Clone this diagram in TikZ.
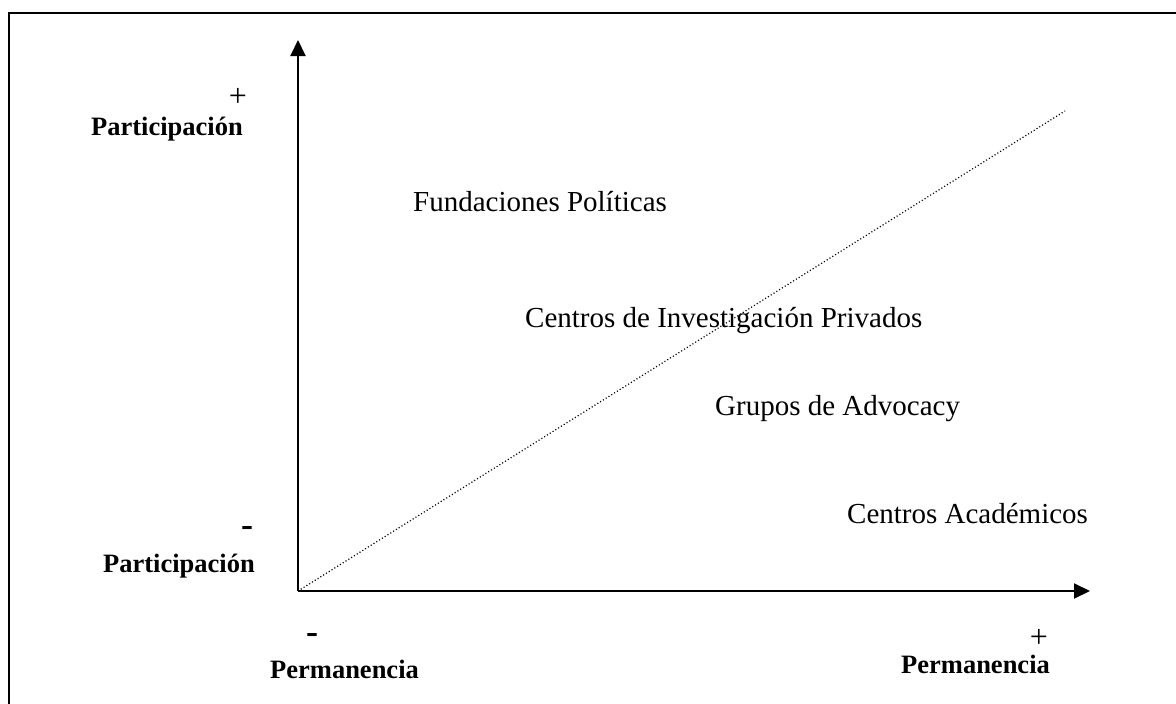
\documentclass[tikz,border=0pt]{standalone}
\usepackage{fontspec}
\setmainfont{Liberation Serif}
\usetikzlibrary{arrows.meta}
\begin{document}
\begin{tikzpicture}[x=1pt,y=-1pt,
  axis/.style={line width=2pt,-{Triangle[length=16pt,width=15pt]}},
  frame/.style={line width=2pt},
  diag/.style={line width=1.2pt,dash pattern=on 1.1pt off 2.2pt},
  lab/.style={anchor=base west,inner sep=0pt,font=\fontsize{29}{31}\selectfont},
  axlab/.style={anchor=base west,inner sep=0pt,font=\fontsize{26.5}{28}\selectfont\bfseries},
  plus/.style={inner sep=0pt,font=\fontsize{32}{34}\selectfont},
  minus/.style={inner sep=0pt,font=\fontsize{36}{38}\selectfont\bfseries}]
\useasboundingbox (0,0) rectangle (1176,704);
\fill[white] (0,0) rectangle (1176,704);
\coordinate (fbl) at (9,704);
\coordinate (ftl) at (9,13);
\coordinate (ftr) at (1176,13);
\draw[frame] (fbl) -- (ftl) -- (ftr);
\coordinate (o) at (298,591);
\coordinate (ytop) at (298,40);
\coordinate (xend) at (1090,591);
\coordinate (dend) at (1065,111);
\draw[diag] (o) -- (dend);
\draw[axis] (o) -- (ytop);
\draw[axis] (o) -- (xend);
\node[plus] (pplus) at (238,97) {+};
\node[axlab] (ptop) at (91,135) {Participación};
\node[minus] (pminus) at (247,531) {-};
\node[axlab] (pbot) at (103,572) {Participación};
\node[minus] (mminus) at (312,638) {-};
\node[axlab] (mleft) at (270,678) {Permanencia};
\node[plus] (mplus) at (1039,638) {+};
\node[axlab] (mright) at (901,673) {Permanencia};
\node[lab] (fund) at (413,211) {Fundaciones Políticas};
\node[lab] (cip) at (525,327) {Centros de Investigación Privados};
\node[lab] (gda) at (715,415) {Grupos de Advocacy};
\node[lab] (ca) at (847,523) {Centros Académicos};
\end{tikzpicture}
\end{document}
